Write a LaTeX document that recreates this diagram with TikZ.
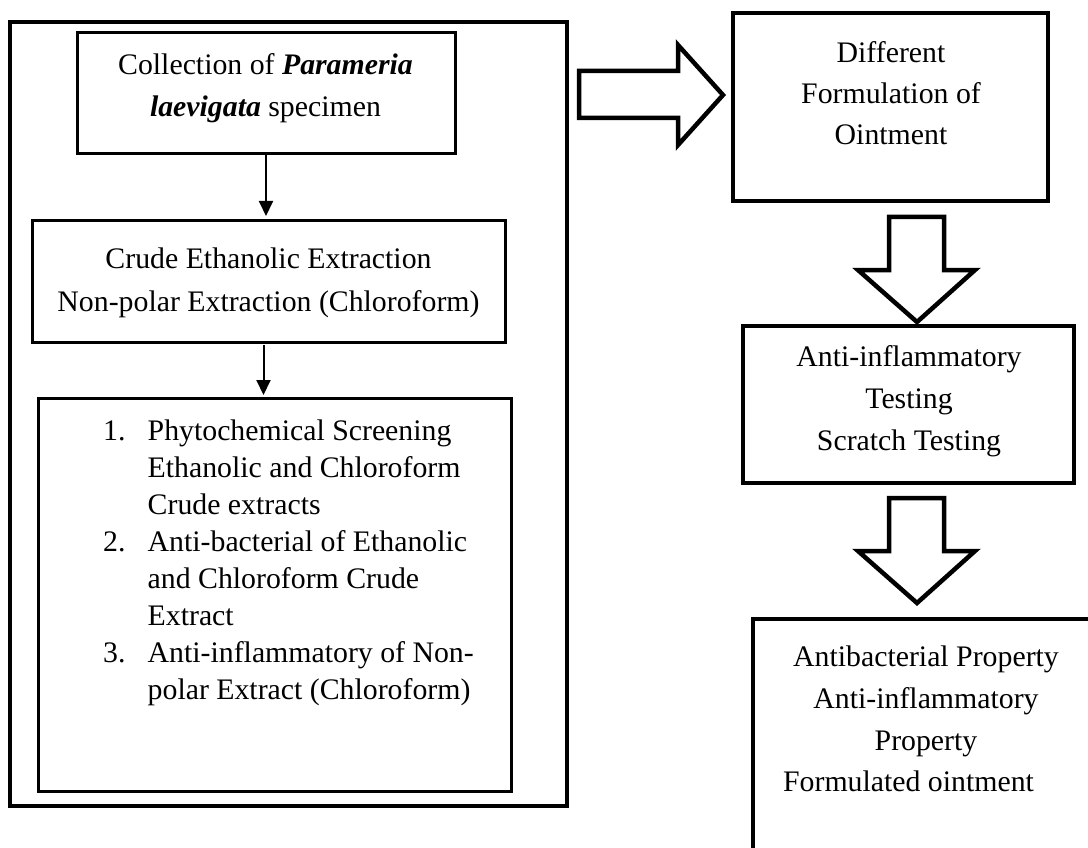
\documentclass[tikz,border=0pt]{standalone}
\usepackage{fontspec}
\setmainfont{Liberation Serif}
\usetikzlibrary{arrows.meta}
\tikzset{
  box/.style={draw, inner sep=0pt, outer sep=0pt, line width=3pt},
  txt/.style={anchor=base, inner sep=0pt, font=\fontsize{29.8}{36}\selectfont},
  ltxt/.style={txt, anchor=base west},
  thinarrow/.style={line width=2pt, -{Triangle[width=14pt,length=15pt]}},
  blockarrow/.style={draw, line width=4.5pt, line join=miter, fill=white},
}
\begin{document}
\begin{tikzpicture}[x=1pt,y=-1pt]
\useasboundingbox (0,0) rectangle (1088,848);
\fill[white] (0,0) rectangle (1088,848);
\clip (0,0) rectangle (1088,848);

% left column
\node[box, line width=4pt, minimum width=557pt, minimum height=784pt] (outer) at (288.5,414) {};
\node[box, minimum width=378pt, minimum height=121pt] (b1) at (266,93.5) {};
\node[box, minimum width=473pt, minimum height=121pt] (b2) at (268.5,281.5) {};
\node[box, minimum width=473pt, minimum height=393pt] (b3) at (274.5,594.5) {};

\node[txt] (t1a) at (265.5,75) {Collection of \textbf{\textit{Parameria}}};
\node[txt] (t1b) at (265.5,117) {\textbf{\textit{laevigata}} specimen};

\node[txt] (t2a) at (268.5,269) {Crude Ethanolic Extraction};
\node[txt] (t2b) at (268.5,311) {Non-polar Extraction (Chloroform)};

\node[ltxt] (n1) at (103,440.7) {1.};
\node[ltxt] (l1) at (147.5,440.7) {Phytochemical Screening};
\node[ltxt] (l2) at (147.5,477.6) {Ethanolic and Chloroform};
\node[ltxt] (l3) at (147.5,514.5) {Crude extracts};
\node[ltxt] (n2) at (103,551.4) {2.};
\node[ltxt] (l4) at (147.5,551.4) {Anti-bacterial of Ethanolic};
\node[ltxt] (l5) at (147.5,588.3) {and Chloroform Crude};
\node[ltxt] (l6) at (147.5,625.2) {Extract};
\node[ltxt] (n3) at (103,662.1) {3.};
\node[ltxt] (l7) at (147.5,662.1) {Anti-inflammatory of Non-};
\node[ltxt] (l8) at (147.5,699) {polar Extract (Chloroform)};

\draw[thinarrow] (b1.south) -- ([yshift=5pt]b1.south |- b2.north);
\draw[thinarrow] ([xshift=-5pt,yshift=-3pt]b2.south) -- ([xshift=-5pt,yshift=3pt]b2.south |- b3.north);

% right column
\node[box, line width=4.5pt, minimum width=315pt, minimum height=188pt] (r1) at (890.5,107) {};
\node[box, line width=3.5pt, minimum width=331pt, minimum height=157pt] (r2) at (908.5,404.5) {};
\node[box, line width=4pt, minimum width=360pt, minimum height=260pt, anchor=north west] (r3) at (753,619) {};

\node[txt] (r1a) at (891,63) {Different};
\node[txt] (r1b) at (891,104) {Formulation of};
\node[txt] (r1c) at (891,145) {Ointment};

\node[txt] (r2a) at (909,366.7) {Anti-inflammatory};
\node[txt] (r2b) at (909,408.3) {Testing};
\node[txt] (r2c) at (909,450) {Scratch Testing};

\node[txt] (r3a) at (926,666.7) {Antibacterial Property};
\node[txt] (r3b) at (926,708.4) {Anti-inflammatory};
\node[txt] (r3c) at (926,750) {Property};
\node[txt] (r3d) at (908.5,791.7) {Formulated ointment};

% block arrows
\draw[blockarrow] (579,71) -- (678,71) -- (678,45) -- (723,95) -- (678,145) -- (678,118) -- (579,118) -- cycle;
\draw[blockarrow] (889,217) -- (944,217) -- (944,270) -- (975,270) -- (917,322) -- (858,270) -- (889,270) -- cycle;
\draw[blockarrow] (889,498) -- (944,498) -- (944,551) -- (975,551) -- (917,603) -- (858,551) -- (889,551) -- cycle;
\end{tikzpicture}
\end{document}
